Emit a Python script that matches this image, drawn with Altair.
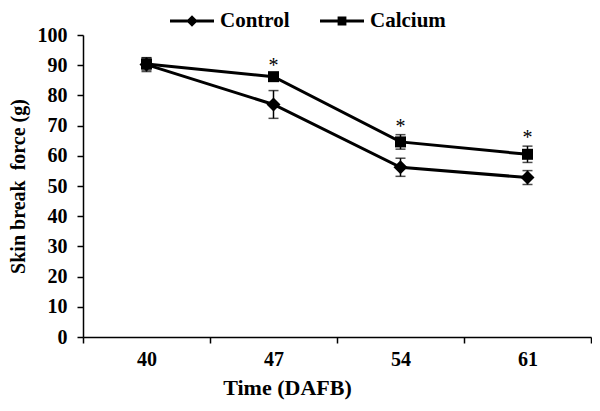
import altair as alt
import pandas as pd

times = ["40", "47", "54", "61"]
series = ["Control", "Calcium"]
control_mean = [90.2, 77.0, 56.2, 52.8]
control_err = [2.3, 4.6, 3.0, 2.3]
calcium_mean = [90.4, 86.2, 64.6, 60.5]
calcium_err = [2.0, 1.0, 2.4, 2.7]
sig = ["", "*", "*", "*"]

rows = []
for s, m, e in [("Control", control_mean, control_err), ("Calcium", calcium_mean, calcium_err)]:
    for t, mv, ev in zip(times, m, e):
        rows.append({"time": t, "series": s, "mean": mv, "lo": mv - ev, "hi": mv + ev})
df = pd.DataFrame(rows)

star_df = pd.DataFrame({
    "time": times,
    "hi": [m + e for m, e in zip(calcium_mean, calcium_err)],
    "sig": sig,
})
star_df = star_df[star_df["sig"] != ""]

FONT = "Times New Roman"
YTITLE = "Skin break\u00a0 force (g)"

x = alt.X(
    "time:O",
    sort=times,
    scale=alt.Scale(type="band", domain=times, paddingInner=0, paddingOuter=0),
    axis=alt.Axis(title="Time (DAFB)", labelAngle=0, tickBand="extent",
                  tickSize=6, labelPadding=6, titlePadding=8,
                  titleX=204, titleAnchor="start", titleAlign="center", titleFontSize=22),
)
yaxis = alt.Axis(title=YTITLE, values=list(range(0, 101, 10)), tickSize=6,
                 labelPadding=10, titlePadding=9)
yscale = alt.Scale(domain=[0, 100], nice=False)

base = alt.Chart(df)

lines = base.mark_line(color="black", strokeWidth=3).encode(
    x=x, y=alt.Y("mean:Q", scale=yscale, axis=yaxis), detail="series:N"
)
rules = base.mark_rule(color="black", strokeWidth=1.5).encode(
    x=x, y=alt.Y("lo:Q", scale=yscale, axis=yaxis), y2="hi:Q"
)
caps_lo = base.mark_tick(color="black", size=10, thickness=1.5).encode(
    x=x, y=alt.Y("lo:Q", scale=yscale, axis=yaxis)
)
caps_hi = base.mark_tick(color="black", size=10, thickness=1.5).encode(
    x=x, y=alt.Y("hi:Q", scale=yscale, axis=yaxis)
)
points = base.mark_point(filled=True, color="black", opacity=1).encode(
    x=x,
    y=alt.Y("mean:Q", scale=yscale, axis=yaxis),
    shape=alt.Shape("series:N", scale=alt.Scale(domain=series, range=["diamond", "square"]), legend=None),
    size=alt.Size("series:N", scale=alt.Scale(domain=series, range=[196, 121]), legend=None),
)
path_control = "M-1,-0.07H1V0.07H-1ZM0,-0.26L0.26,0L0,0.26L-0.26,0Z"
path_calcium = "M-1,-0.07H1V0.07H-1ZM-0.2,-0.2H0.2V0.2H-0.2Z"
legend_layer = base.mark_point(filled=True, color="black", opacity=0).encode(
    x=x,
    y=alt.Y("mean:Q", scale=yscale, axis=yaxis),
    shape=alt.Shape(
        "series:N",
        scale=alt.Scale(domain=series, range=[path_control, path_calcium]),
        legend=alt.Legend(
            title=None, orient="none", legendX=87, legendY=-36, direction="horizontal",
            symbolSize=1936, symbolStrokeWidth=0,
            symbolFillColor="black", symbolOpacity=1, labelFont=FONT,
            labelFontSize=21, labelFontWeight="bold", labelColor="black",
            labelOffset=6, columnPadding=30, labelBaseline="middle",
        ),
    ),
)
stars = alt.Chart(star_df).mark_text(
    font=FONT, fontSize=20, color="black", dy=-8, baseline="middle"
).encode(x=x, y=alt.Y("hi:Q", scale=yscale, axis=yaxis), text="sig:N")

chart = (
    alt.layer(lines, rules, caps_lo, caps_hi, points, legend_layer, stars)
    .resolve_scale(shape="independent", size="independent")
    .properties(
        width=508, height=302,
        autosize=alt.AutoSizeParams(type="none"),
        padding={"left": 75, "top": 27, "right": 1, "bottom": 65},
        background="white",
    )
    .configure_view(stroke=None)
    .configure_axis(
        grid=False, domainColor="black", domainWidth=1.5, tickColor="black", tickWidth=1.5,
        labelFont=FONT, labelFontSize=20, labelFontWeight="bold", labelColor="black",
        titleFont=FONT, titleFontSize=20, titleFontWeight="bold", titleColor="black",
    )
)

chart.save("out.html", embed_options={"renderer": "svg", "actions": False})
